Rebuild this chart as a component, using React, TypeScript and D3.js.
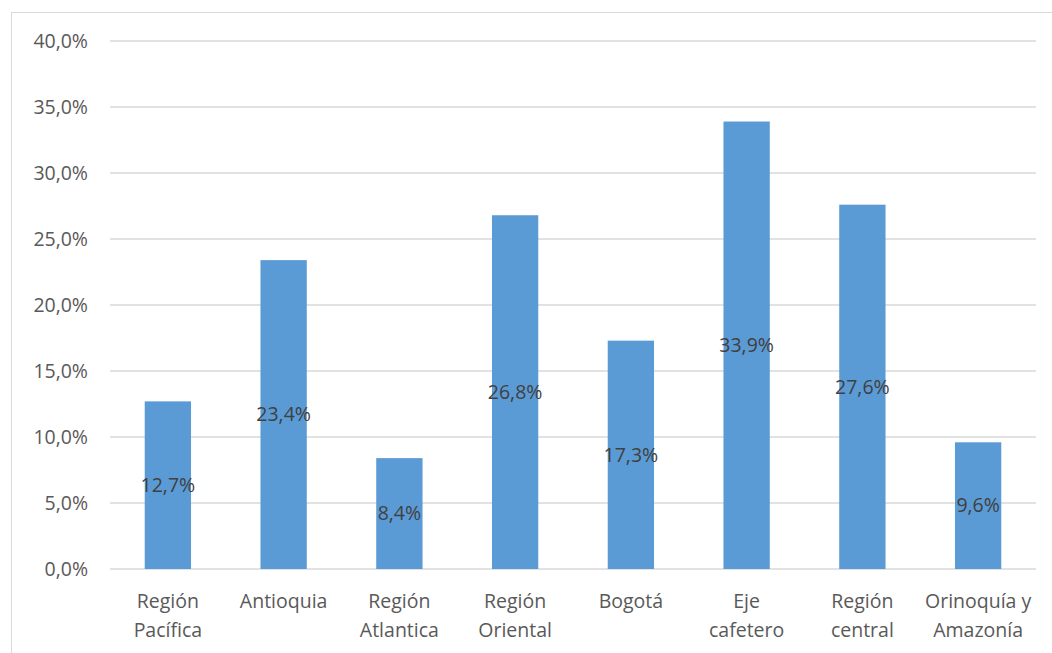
import React from "react";
import * as d3 from "d3";

const categories: string[][] = [
  ["Región", "Pacífica"],
  ["Antioquia"],
  ["Región", "Atlantica"],
  ["Región", "Oriental"],
  ["Bogotá"],
  ["Eje", "cafetero"],
  ["Región", "central"],
  ["Orinoquía y", "Amazonía"],
];
const values: number[] = [12.7, 23.4, 8.4, 26.8, 17.3, 33.9, 27.6, 9.6];
const ticks: number[] = [0, 5, 10, 15, 20, 25, 30, 35, 40];

const fmt = (v: number) => v.toFixed(1).replace(".", ",") + "%";

export default function App() {
  const W = 1052, H = 653;
  const left = 110, right = 1036, top = 41, bottom = 569;
  const keys = categories.map((_, i) => String(i));
  const x = d3.scaleBand<string>().domain(keys).range([left, right]).paddingInner(0.6).paddingOuter(0.3);
  const y = d3.scaleLinear().domain([0, 40]).range([bottom, top]);
  const font = "'Open Sans', sans-serif";
  return (
    <svg width={W} height={H} style={{ position: "absolute", left: 0, top: 0 }}>
      <rect x={0} y={0} width={W} height={H} fill="#fff" />
      <rect x={11.5} y={12.5} width={1060} height={660} fill="none" stroke="#d9d9d9" strokeWidth={1} />
      {ticks.map((t) => (
        <g key={t}>
          <line x1={left} x2={right} y1={y(t)} y2={y(t)} stroke="#d9d9d9" strokeWidth={t === 0 ? 1.5 : 1.3} />
          <text x={88} y={y(t)} dy="0.35em" textAnchor="end" fontFamily={font} fontSize={19.5} fill="#595959">
            {fmt(t)}
          </text>
        </g>
      ))}
      {values.map((v, i) => {
        const bx = x(String(i))!;
        const bw = x.bandwidth();
        return (
          <g key={i}>
            <rect x={bx} y={y(v)} width={bw} height={y(0) - y(v)} fill="#5b9bd5" />
            <text x={bx + bw / 2} y={(y(v) + y(0)) / 2} dy="0.35em" textAnchor="middle" fontFamily={font} fontSize={19.5} fill="#404040">
              {fmt(v)}
            </text>
          </g>
        );
      })}
      {categories.map((lines, i) => {
        const cx = x(String(i))! + x.bandwidth() / 2;
        return (
          <text key={i} textAnchor="middle" fontFamily={font} fontSize={19.5} fill="#595959">
            {lines.map((l, j) => (
              <tspan key={j} x={cx} y={608 + j * 29}>{l}</tspan>
            ))}
          </text>
        );
      })}
    </svg>
  );
}
